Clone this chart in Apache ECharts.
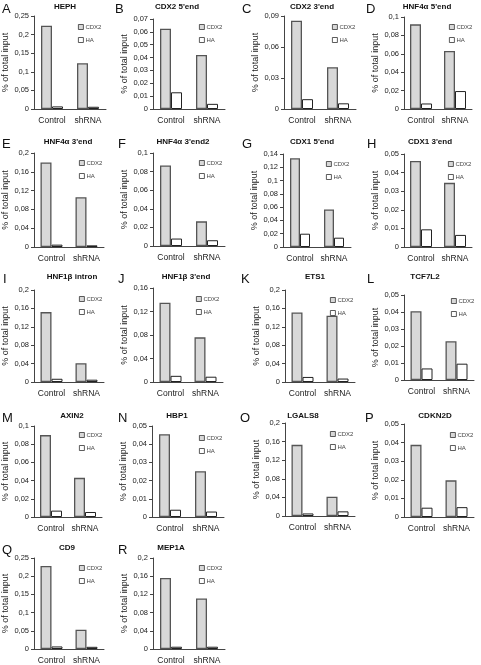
<!DOCTYPE html>
<html><head><meta charset="utf-8">
<script src="https://cdn.jsdelivr.net/npm/echarts@6/dist/echarts.min.js"></script>
<style>html,body{margin:0;padding:0;background:#fff}#c{width:481px;height:665px}</style>
</head><body><div id="c"></div>
<script>
// ---- data ----
const categories = ['Control', 'shRNA'];
const seriesNames = ['CDX2', 'HA'];
const panelLetters = ['A','B','C','D','E','F','G','H','I','J','K','L','M','N','O','P','Q','R'];
const panelTitles = ['HEPH',"CDX2 5'end","CDX2 3'end","HNF4α 5'end","HNF4α 3'end","HNF4α 3'end2","CDX1 5'end","CDX1 3'end",
  'HNF1β intron',"HNF1β 3'end",'ETS1','TCF7L2','AXIN2','HBP1','LGALS8','CDKN2D','CD9','MEP1A'];
const cdx2Control = [0.224,0.0625,0.0855,0.092,0.180,0.0865,0.1335,0.0462,0.152,0.135,0.151,0.0405,0.090,0.0455,0.153,0.0388,0.228,0.156];
const cdx2Shrna   = [0.123,0.042,0.0405,0.063,0.106,0.0265,0.0565,0.0345,0.041,0.076,0.144,0.0228,0.043,0.0252,0.0415,0.0197,0.053,0.111];
const haControl   = [0.007,0.013,0.0095,0.006,0.005,0.008,0.020,0.0095,0.007,0.0105,0.011,0.0068,0.007,0.004,0.0055,0.005,0.007,0.005];
const haShrna     = [0.006,0.004,0.0055,0.0195,0.0035,0.0062,0.014,0.0065,0.005,0.009,0.0075,0.0096,0.0055,0.003,0.010,0.0053,0.006,0.005];
const yMax  = [0.25,0.07,0.09,0.1,0.2,0.1,0.14,0.05,0.2,0.16,0.2,0.05,0.1,0.05,0.2,0.05,0.25,0.2];
const yStep = [0.05,0.01,0.03,0.02,0.04,0.02,0.02,0.01,0.04,0.04,0.04,0.01,0.02,0.01,0.04,0.01,0.05,0.04];

// ---- layout (pixels) ----
// [left, topY, zeroY, categoryWidth, titleCx, titleCy, letterX, letterCy, legendX, legendY]
const layout = [
  [34,16,109,36, 65,7, 2,9, 78,24],
  [153,19,109,36, 177,7, 115,9, 199,24],
  [284,16,109,36, 312,7, 242,9, 332,24],
  [404,17,109,34, 427,7, 366,9, 449,24],
  [34,153,247,35, 68,142, 2,144, 79,160],
  [153,153,246,36, 183,142, 118,144, 199,160],
  [283,154,247,34, 312,142, 242,144, 326,161],
  [404,154,247,34, 430,142, 367,144, 448,161],
  [34,290,382,35, 72,277, 3,279, 79,296],
  [153,288,382,35, 186,277, 118,279, 196,296],
  [285,290,382,35, 315,277, 241,279, 330,297],
  [404,295,380,35, 425,277, 367,279, 451,298],
  [34,426,517,34, 72,416, 2,418, 79,432],
  [152,426,517,36, 177,416, 118,418, 199,435],
  [285,423,516,35, 303,416, 240,418, 330,431],
  [404,424,517,35, 435,416, 365,418, 450,432],
  [34,558,651,35, 67,548, 2,550, 79,565],
  [153,558,651,36, 171,548, 118,550, 199,565]
];

const fmt = v => String(+v.toFixed(4)).replace('.', ',');
const grid = [], xAxis = [], yAxis = [], series = [], legend = [], graphic = [];
const font = 'Liberation Sans, Arial, sans-serif';

panelTitles.forEach((t, i) => {
  const [l, top, zero, w, tcx, tcy, lx, lcy, gx, gy] = layout[i];
  grid.push({left: l, top: top, width: 2 * w, height: zero - top, containLabel: false});
  xAxis.push({
    type: 'category', gridIndex: i, data: categories,
    axisLine: {lineStyle: {color: '#444', width: 1}},
    axisTick: {length: 3, lineStyle: {color: '#444'}},
    axisLabel: {interval: 0, hideOverlap: false, color: '#222', fontSize: 8.5, fontFamily: font, margin: 7}
  });
  yAxis.push({
    type: 'value', gridIndex: i, min: 0, max: yMax[i], interval: yStep[i],
    name: '% of total input', nameLocation: 'middle', nameGap: 24, nameRotate: 90,
    nameTextStyle: {fontSize: 9, color: '#222', fontFamily: font},
    axisLine: {show: true, lineStyle: {color: '#444', width: 1}},
    axisTick: {show: true, length: 3, lineStyle: {color: '#444'}},
    splitLine: {show: false},
    axisLabel: {color: '#222', fontSize: 7.5, fontFamily: font, margin: 5, formatter: fmt}
  });
  const bw = (i === 6) ? 10 : 11;
  series.push({
    type: 'bar', name: seriesNames[0], xAxisIndex: i, yAxisIndex: i,
    data: [cdx2Control[i], cdx2Shrna[i]], barWidth: bw, barGap: '0%',
    itemStyle: {color: '#d8d8d8', borderColor: '#555', borderWidth: 1.3},
    emphasis: {disabled: true}, animation: false
  });
  series.push({
    type: 'bar', name: seriesNames[1], xAxisIndex: i, yAxisIndex: i,
    data: [haControl[i], haShrna[i]], barWidth: bw, barGap: '0%',
    itemStyle: {color: '#ffffff', borderColor: '#222', borderWidth: 1},
    emphasis: {disabled: true}, animation: false
  });
  legend.push({
    data: seriesNames, left: gx, top: gy, orient: 'vertical', padding: 0,
    itemWidth: 5, itemHeight: 5, itemGap: 7, selectedMode: false,
    icon: 'rect', itemStyle: {borderWidth: 0.8, borderColor: '#333'},
    textStyle: {fontSize: 6, color: '#444', fontFamily: font, padding: [0, 0, 0, -3]}
  });
  graphic.push({type: 'text', x: tcx, y: tcy, style: {text: t, font: 'bold 8px ' + font, fill: '#111', textAlign: 'center', textVerticalAlign: 'middle'}});
  graphic.push({type: 'text', x: lx, y: lcy, style: {text: panelLetters[i], font: '13px ' + font, fill: '#111', textAlign: 'left', textVerticalAlign: 'middle'}});
});

const chart = echarts.init(document.getElementById('c'), null, {renderer: 'canvas'});
chart.setOption({animation: false, grid, xAxis, yAxis, series, legend, graphic});
</script></body></html>
